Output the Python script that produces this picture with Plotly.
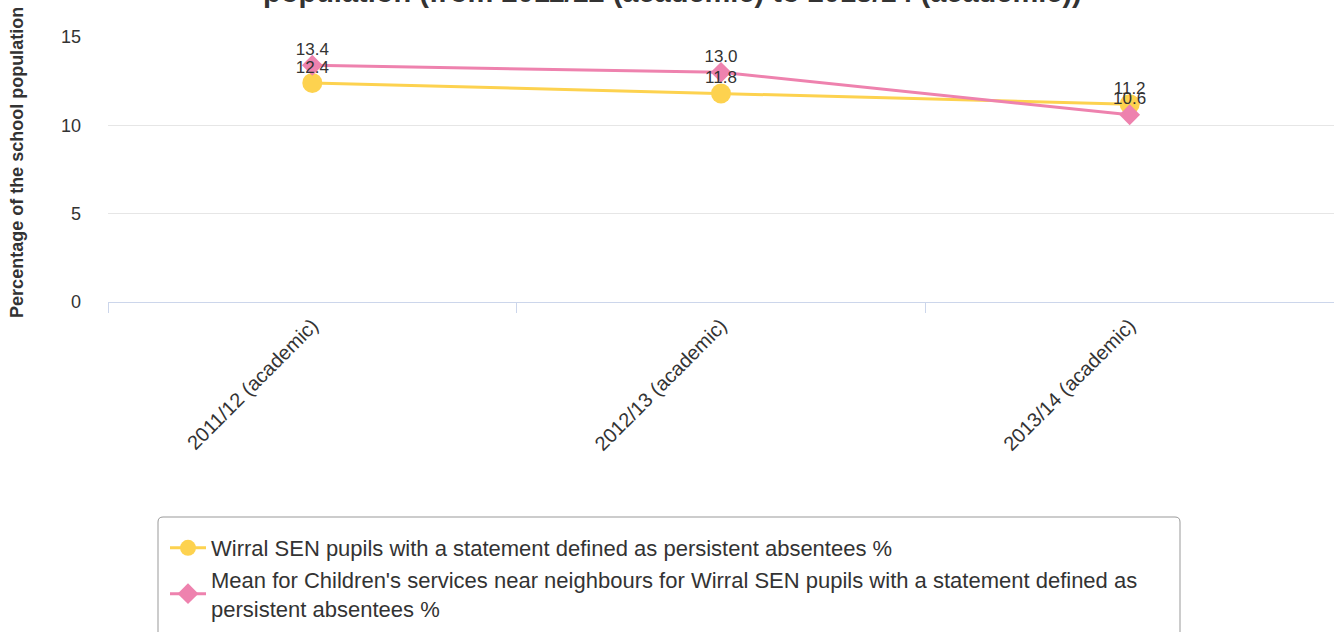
import plotly.graph_objects as go

categories = ["2011/12 (academic)", "2012/13 (academic)", "2013/14 (academic)"]
wirral = [12.4, 11.8, 11.2]
neighbours = [13.4, 13.0, 10.6]
name_wirral = "Wirral SEN pupils with a statement defined as persistent absentees %"
name_neigh = ("Mean for Children's services near neighbours for Wirral SEN pupils with a statement defined as"
              "<br>persistent absentees %")
title_text = "population (from 2011/12 (academic) to 2013/14 (academic))"
y_title = "Percentage of the school population"
y_ticks = [0, 5, 10, 15]

YELLOW = "#FDD24F"
PINK = "#EE82AE"
FONT = "Liberation Sans, Arial, sans-serif"

fig = go.Figure()
fig.add_trace(go.Scatter(
    x=categories, y=wirral, name=name_wirral, mode="lines+markers",
    line=dict(color=YELLOW, width=3),
    marker=dict(symbol="circle", size=20, color=YELLOW),
))
fig.add_trace(go.Scatter(
    x=categories, y=neighbours, name=name_neigh, mode="lines+markers",
    line=dict(color=PINK, width=3),
    marker=dict(symbol="diamond", size=16, color=PINK),
))
# data labels
for vals in (wirral, neighbours):
    fig.add_trace(go.Scatter(
        x=categories, y=vals, mode="markers+text", showlegend=False, hoverinfo="skip",
        marker=dict(size=8, opacity=0),
        text=[f"{v:.1f}" for v in vals], textposition="top center",
        textfont=dict(size=17, color="#333333", family=FONT),
    ))

# rounded legend frame (paper coords)
L = (158 - 108) / 1226
R = (1180 - 108) / 1226
T = -(517 - 302) / 265
B = -(645 - 302) / 265
rx = 5 / 1226
ry = 5 / 265
path = (f"M {L+rx},{T} L {R-rx},{T} Q {R},{T} {R},{T-ry} L {R},{B+ry} Q {R},{B} {R-rx},{B} "
        f"L {L+rx},{B} Q {L},{B} {L},{B+ry} L {L},{T-ry} Q {L},{T} {L+rx},{T} Z")

fig.update_layout(
    width=1334, height=632,
    margin=dict(l=108, r=0, t=37, b=330),
    paper_bgcolor="white", plot_bgcolor="white",
    font=dict(family=FONT, color="#333333"),
    showlegend=True,
    shapes=[dict(type="path", xref="paper", yref="paper", path=path,
                 line=dict(color="#999999", width=1), fillcolor="rgba(0,0,0,0)", layer="below")],
    legend=dict(x=(165 - 108) / 1226, xanchor="left", y=-(527 - 302) / 265, yanchor="top",
                borderwidth=0, bgcolor="rgba(0,0,0,0)",
                font=dict(size=22, color="#333333", family=FONT),
                itemwidth=36, tracegroupgap=2),
    xaxis=dict(type="category", range=[-0.5, 2.5], tickson="boundaries",
               ticks="outside", ticklen=10, tickcolor="#ccd6eb",
               showline=True, linecolor="#ccd6eb", linewidth=1,
               showgrid=False, tickangle=-45, automargin=False, ticklabelstandoff=3,
               tickfont=dict(size=20, color="#333333", family=FONT)),
    yaxis=dict(range=[0, 15], tickvals=y_ticks, showgrid=True,
               gridcolor="#e6e6e6", gridwidth=1, zeroline=False,
               showline=False, ticks="", ticklabelstandoff=26, automargin=False,
               tickfont=dict(size=18, color="#333333", family=FONT)),
    annotations=[
        dict(text="<b>" + y_title + "</b>", textangle=-90,
             xref="paper", yref="paper", x=-0.0742, y=0.525,
             xanchor="center", yanchor="middle", showarrow=False,
             font=dict(size=18, color="#333333", family=FONT)),
        dict(text="<b>" + title_text + "</b>",
             xref="paper", yref="paper", x=(672 - 108) / 1226, y=(302 + 8) / 265,
             xanchor="center", yanchor="middle", showarrow=False,
             font=dict(size=29, color="#333333", family=FONT)),
    ],
)

fig.write_html("out.html", config={"displayModeBar": False},
               post_script="document.body.style.margin='0';")
